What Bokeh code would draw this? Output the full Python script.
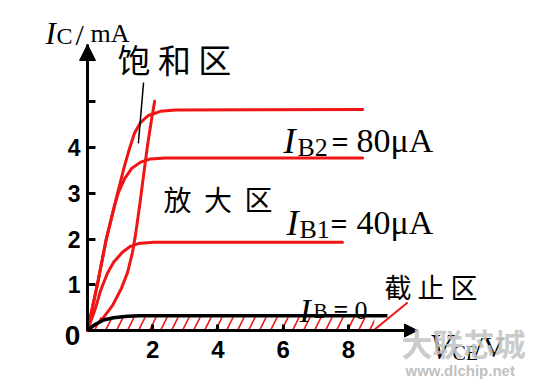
from bokeh.plotting import figure
from bokeh.models import Range1d, LinearAxis, FixedTicker, Label, Arrow, NormalHead
from bokeh.embed import file_html
from bokeh.resources import INLINE

# ---------------- data (V_CE in V, I_C in mA) ----------------
vce_ib2 = [0, 0.31, 0.58, 0.89, 1.14, 1.29, 1.44, 1.63, 1.87, 2.24, 2.70, 8.44]
ic_ib2 = [0, 1.03, 2.01, 2.91, 3.61, 3.98, 4.31, 4.55, 4.70, 4.79, 4.82, 4.83]

vce_mid = [0, 0.31, 0.58, 0.83, 0.95, 1.14, 1.35, 1.63, 1.93, 2.39, 8.44]
ic_mid = [0, 1.03, 2.01, 2.73, 3.02, 3.32, 3.54, 3.68, 3.75, 3.77, 3.77]

vce_ib1 = [0, 0.25, 0.40, 0.61, 0.80, 1.07, 1.32, 1.56, 2.03, 7.82]
ic_ib1 = [0, 0.50, 0.87, 1.25, 1.49, 1.71, 1.84, 1.90, 1.93, 1.93]

vce_ib0 = [0, 0.18, 0.49, 0.80, 1.23, 1.63, 9.20]
ic_ib0 = [0, 0.11, 0.23, 0.28, 0.31, 0.32, 0.32]

vce_sat = [0, 0.40, 0.77, 1.04, 1.23, 1.38, 1.47, 1.60, 1.72, 1.84, 1.96, 2.06]
ic_sat = [0, 0.20, 0.55, 0.92, 1.27, 1.71, 2.08, 2.73, 3.39, 4.04, 4.59, 5.01]

cutoff_v = [0.15, 8.80]
cutoff_lo = [0.0, 0.0]
cutoff_hi = [0.29, 0.29]

sat_pointer_v = [1.72, 1.56]
sat_pointer_i = [5.42, 4.09]
cut_pointer_v = [8.77, 9.82]
cut_pointer_i = [0.0, 0.61]

x_ticks = [2, 4, 6, 8]
y_ticks = [1, 2, 3, 4, 5]
y_label_overrides = {5: ""}

RED = "#f01414"
SERIF = "Liberation Serif"
SANS = "Liberation Sans"
CJK = "Noto Sans CJK SC"
NB = "\u00a0"

X0, XS = 87.0, 32.6
Y0, YS = 330.0, 45.75
W, H = 555, 383

def dx(px):
    return (px - X0) / XS

def dy(py):
    return (Y0 - py) / YS

X_END = dx(416)
Y_END = dy(44)

p = figure(width=W, height=H,
           x_range=Range1d(dx(0), dx(W)), y_range=Range1d(dy(H), dy(0)),
           x_axis_type=None, y_axis_type=None,
           output_backend="svg", toolbar_location=None, min_border=0)
p.outline_line_color = None
p.background_fill_color = "white"
p.border_fill_color = "white"
p.grid.visible = False

xa = LinearAxis(ticker=FixedTicker(ticks=x_ticks), fixed_location=0,
                bounds=(0, X_END),
                axis_line_width=3, axis_line_color="black",
                major_tick_in=6, major_tick_out=0, major_tick_line_width=3,
                minor_tick_line_color=None,
                major_label_text_font=SANS, major_label_text_font_style="bold",
                major_label_text_font_size="24px", major_label_standoff=10,
                major_label_text_color="black")
ya = LinearAxis(ticker=FixedTicker(ticks=y_ticks), fixed_location=0,
                bounds=(0, Y_END),
                axis_line_width=3, axis_line_color="black",
                major_tick_in=8, major_tick_out=0, major_tick_line_width=3,
                minor_tick_line_color=None,
                major_label_overrides=y_label_overrides,
                major_label_text_font=SANS, major_label_text_font_style="bold",
                major_label_text_font_size="23px", major_label_standoff=7,
                major_label_text_color="black")
p.add_layout(xa, "below")
p.add_layout(ya, "left")

# hatched cut-off region
p.varea(x=cutoff_v, y1=cutoff_lo, y2=cutoff_hi, fill_color=None,
        hatch_pattern="/", hatch_color=RED, hatch_weight=1.6, hatch_scale=22)

for xs, ys in [(vce_ib2, ic_ib2), (vce_mid, ic_mid), (vce_ib1, ic_ib1), (vce_sat, ic_sat)]:
    p.line(xs, ys, line_color=RED, line_width=3, line_cap="round", line_join="round")
p.line(vce_ib0, ic_ib0, line_color="black", line_width=3.5, line_join="round")

p.line(sat_pointer_v, sat_pointer_i, line_color="black", line_width=1.5)
p.line(cut_pointer_v, cut_pointer_i, line_color=RED, line_width=2)

# axis arrows
p.add_layout(Arrow(end=NormalHead(size=16, fill_color="black", line_color="black"),
                   x_start=0, y_start=dy(80), x_end=0, y_end=Y_END,
                   line_color="black", line_width=3))
p.add_layout(Arrow(end=NormalHead(size=13, fill_color="black", line_color="black"),
                   x_start=dx(380), y_start=0, x_end=dx(417), y_end=0,
                   line_color="black", line_width=3))

def lab(text, px, py, size, font=SERIF, style="normal", align="left",
        baseline="alphabetic", color="black", alpha=1.0):
    p.add_layout(Label(x=dx(px), y=dy(py), text=text, text_font=font,
                       text_font_size=f"{size}px", text_font_style=style,
                       text_align=align, text_baseline=baseline,
                       text_color=color, text_alpha=alpha))

lab("0", 72, 335, 28, font=SANS, style="bold", align="center", baseline="middle")

# y-axis title
lab("I", 45, 33, 31, style="italic")
lab("C", 56, 35, 24)
lab("/", 75, 34, 30)
lab("mA", 90, 33, 26)

# x-axis title
lab("V", 429, 346, 36, style="italic")
lab("CE", 452, 352, 20)
lab("/V", 474, 346, 30)

# region names
lab("饱" + NB + "和" + NB + "区", 117, 58, 33, font=CJK, baseline="middle")
lab("放" + NB * 2 + "大" + NB * 2 + "区", 163, 198, 28, font=CJK, baseline="middle")
lab("截" + NB + "止" + NB + "区", 384, 286, 27, font=CJK, baseline="middle")

# curve labels
lab("I", 283, 140, 36, style="italic")
lab("B2", 297, 147, 26)
lab("=", 331, 141, 30, style="bold")
lab("80μA", 356, 140, 34)

lab("I", 286, 222, 36, style="italic")
lab("B1", 299, 229, 26)
lab("=", 330, 223, 30, style="bold")
lab("40μA", 356, 222, 34)

lab("I", 299, 310, 34, style="italic")
lab("B", 313, 310, 21)
lab("=", 333, 309, 26, style="bold")
lab("0", 354, 310, 26)

# watermark
lab("大联芯城", 401, 342, 31, font=CJK, style="bold", baseline="middle",
    color="#c4c4c4", alpha=0.9)
lab("www.dlchip.net", 405, 370, 15, font=SANS, style="bold", baseline="middle",
    color="#b8b8b8", alpha=0.9)

open("out.html", "w").write(file_html(p, INLINE))
